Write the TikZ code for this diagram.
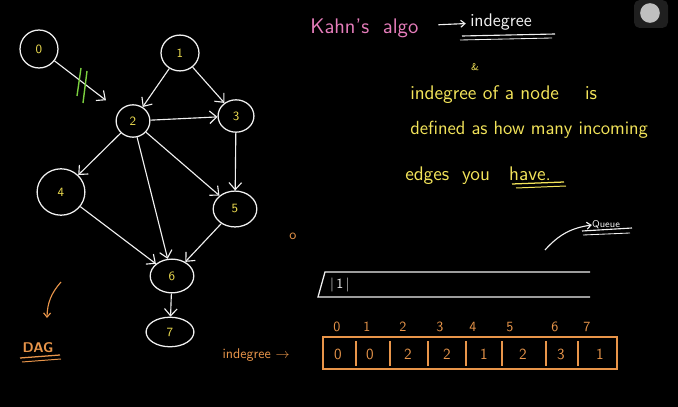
\documentclass[tikz,border=0pt]{standalone}
\usepackage{fontspec}
\usetikzlibrary{shapes.geometric,arrows.meta}
\definecolor{board}{HTML}{000000}
\definecolor{chalk}{HTML}{F0F0F0}
\definecolor{label}{HTML}{EBDA4F}
\definecolor{note}{HTML}{F3E45A}
\definecolor{kahnink}{HTML}{E67DBB}
\definecolor{tally}{HTML}{E8954A}
\definecolor{cutmark}{HTML}{7BD13F}
\definecolor{cursor}{HTML}{BFBFBF}

\begin{document}
\begin{tikzpicture}[x=0.025cm,y=-0.025cm,font=\sffamily,
  vertex/.style={ellipse,draw=chalk,line width=0.9pt,text=label,inner sep=0pt,font=\sffamily\small},
  edge/.style={draw=chalk,line width=0.8pt,-{Straight Barb[length=5pt,width=9pt]}},
  scribble/.style={text=note,font=\sffamily\fontsize{14}{16}\selectfont,inner sep=0pt},
  tallytext/.style={text=tally,font=\sffamily\fontsize{10}{12}\selectfont,inner sep=0pt}]
  % board
  \fill[board] (0,0) rectangle (678,407);
  \fill[black!88!white,rounded corners=4pt] (634,0) rectangle (668,28);
  \fill[cursor] (650,13) circle (7pt);

  % the graph
  \node[vertex,minimum width=27pt,minimum height=27pt] (n0) at (39,49) {0};
  \node[vertex,minimum width=27pt,minimum height=25.5pt] (n1) at (180,53) {1};
  \node[vertex,minimum width=24pt,minimum height=23pt] (n2) at (133,121) {2};
  \node[vertex,minimum width=25.5pt,minimum height=23pt] (n3) at (236,116) {3};
  \node[vertex,minimum width=34pt,minimum height=33pt] (n4) at (61,192) {4};
  \node[vertex,minimum width=31pt,minimum height=25.5pt] (n5) at (235,209) {5};
  \node[vertex,minimum width=31pt,minimum height=24pt] (n6) at (172,276) {6};
  \node[vertex,minimum width=34pt,minimum height=21pt] (n7) at (170,332) {7};

  \draw[edge,shorten >=12pt] (n0) -- (n2);
  \draw[edge] (n1) -- (n2);
  \draw[edge] (n1) -- (n3);
  \draw[edge] (n2) -- (n3);
  \draw[edge] (n2) -- (n4);
  \draw[edge] (n2) -- (n5);
  \draw[edge] (n2) -- (n6);
  \draw[edge] (n3) -- (n5);
  \draw[edge] (n4) -- (n6);
  \draw[edge] (n5) -- (n6);
  \draw[edge] (n6) -- (n7);
  % removed edge
  \draw[cutmark,line width=1pt] (81,68) -- (77,96);
  \draw[cutmark,line width=1pt] (87,71) -- (83,103);

  % notes
  \node[text=kahnink,font=\sffamily\fontsize{15}{17}\selectfont,anchor=west,inner sep=0pt] (kahn) at (310,28) {Kahn's\ \ algo};
  \node[text=chalk,font=\sffamily\fontsize{13}{15}\selectfont,anchor=west,inner sep=0pt] (indeg) at (470,22) {indegree};
  \draw[draw=chalk,line width=0.8pt,-{Straight Barb[length=3pt,width=5pt]},shorten <=14pt,shorten >=3pt] (kahn) -- (indeg);
  \draw[chalk,line width=0.8pt] (462,36) -- (555,34);
  \draw[chalk,line width=0.6pt] (460,40) -- (552,38);
  \node[text=note,font=\sffamily\scriptsize,inner sep=0pt] (amp) at (475,67) {\&};
  \node[scribble,anchor=west] (line1) at (410,95) {indegree of a node\quad\ is};
  \node[scribble,anchor=west,font=\sffamily\fontsize{13.5}{16}\selectfont] (line2) at (410,130) {defined as how many incoming};
  \node[scribble,anchor=west] (line3) at (405,176) {edges\ \ you\ \ \ have.};
  \draw[note,line width=0.9pt] (512,184) -- (564,182);
  \draw[note,line width=0.7pt] (516,188) -- (566,186);
  \node[tallytext] (dot) at (293,236) {o};

  % queue
  \node[text=chalk,font=\sffamily\fontsize{7}{8}\selectfont,inner sep=0pt] (qlabel) at (606,225) {Queue};
  \coordinate (qtail) at (545,250);
  \draw[draw=chalk,line width=0.8pt,-{Straight Barb[length=3pt,width=5pt]}] (qtail) to[bend left=20] (qlabel.west);
  \draw[chalk,line width=0.8pt] (582,231) -- (632,228);
  \draw[chalk,line width=0.6pt] (583,235) -- (630,233);
  \draw[chalk,line width=0.9pt] (590,272) -- (325,272) -- (318,297) -- (590,297);
  \node[text=chalk,font=\sffamily\fontsize{10}{12}\selectfont,inner sep=0pt] (qitem) at (340,285) {|\,1\,|};

  % indegree array
  \foreach \i/\x in {0/337,1/367,2/403,3/440,4/473,5/510,6/555,7/587} {
    \node[tallytext] (idx\i) at (\x,327) {\i};
  }
  \draw[tally,line width=0.9pt] (323,337) rectangle (617,369);
  \foreach \x in {356,390,428,466,502,546,578} {
    \draw[tally,line width=0.8pt] (\x,341) -- (\x,366);
  }
  \foreach \v/\x in {0/338,0/370,2/408,2/447,1/484,2/523,3/561,1/600} {
    \node[tallytext,font=\sffamily\fontsize{11}{13}\selectfont] at (\x,354) {\v};
  }
  \node[tallytext,font=\sffamily\fontsize{10}{12}\selectfont,anchor=east] (arrlabel) at (290,355) {indegree $\rightarrow$};

  % DAG
  \node[text=tally,font=\sffamily\bfseries\fontsize{10}{12}\selectfont,inner sep=0pt] (dag) at (38,348) {DAG};
  \draw[tally,line width=0.9pt] (20,358) -- (60,355);
  \draw[tally,line width=0.7pt] (22,362) -- (61,359);
  \coordinate (dagtail) at (61,282);
  \draw[draw=tally,line width=0.8pt,-{Straight Barb[length=3pt,width=5pt]}] (dagtail) to[bend right=20] (47,318);
\end{tikzpicture}
\end{document}
